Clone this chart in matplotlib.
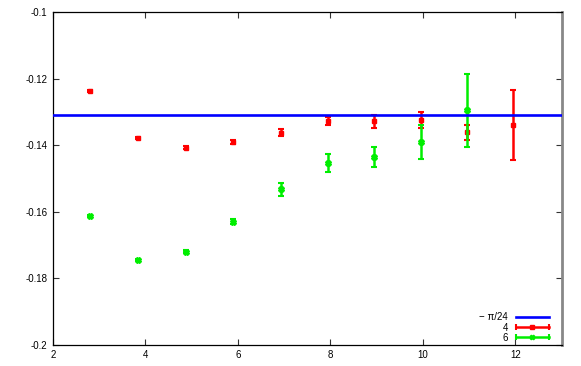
import numpy as np
import matplotlib
matplotlib.use("Agg")
import matplotlib.pyplot as plt
from matplotlib.legend_handler import HandlerBase
from matplotlib.lines import Line2D

plt.rcParams['font.family'] = ['Liberation Sans', 'DejaVu Sans']
plt.rcParams['axes.unicode_minus'] = False

# data
x_red = [2.81, 3.83, 4.87, 5.90, 6.92, 7.94, 8.95, 9.96, 10.96, 11.95]
y_red = [-0.1237, -0.13775, -0.1408, -0.1391, -0.1363, -0.1328, -0.1329, -0.1325, -0.1362, -0.1340]
e_red = [0.0002, 0.0003, 0.0004, 0.0005, 0.0011, 0.0013, 0.0019, 0.0025, 0.0022, 0.0105]

x_green = [2.81, 3.83, 4.87, 5.90, 6.92, 7.94, 8.95, 9.96, 10.96]
y_green = [-0.1612, -0.1746, -0.1720, -0.1630, -0.1533, -0.1454, -0.1436, -0.1391, -0.1296]
e_green = [0.0003, 0.0003, 0.0005, 0.0007, 0.0020, 0.0026, 0.0031, 0.0050, 0.0110]

const_val = -np.pi / 24
labels = ['\u2212 \u03c0/24', '4', '6']
xticks = [2, 4, 6, 8, 10, 12]
yticks = [-0.2, -0.18, -0.16, -0.14, -0.12, -0.1]
ytick_labels = ['-0.2', '-0.18', '-0.16', '-0.14', '-0.12', '-0.1']

fig = plt.figure(figsize=(5.81, 3.66), dpi=100)
ax = fig.add_axes([0.0912, 0.0582, 0.8756, 0.909])

ax.axhline(const_val, color='#0000ff', lw=1.9, zorder=5)
ax.errorbar(x_red, y_red, yerr=e_red, fmt='s', color='#ff0000', ms=2.8,
            elinewidth=1.8, capsize=2.5, capthick=1.5, zorder=3)
ax.errorbar(x_green, y_green, yerr=e_green, fmt='X', color='#00ee00', ms=3.8,
            elinewidth=1.8, capsize=2.5, capthick=1.5, zorder=4)

ax.set_xlim(2, 13)
ax.set_ylim(-0.2, -0.1)
ax.set_xticks(xticks)
ax.set_xticklabels([str(t) for t in xticks])
ax.set_yticks(yticks)
ax.set_yticklabels(ytick_labels)
ax.tick_params(direction='in', length=4, width=0.8, labelsize=7, top=True, right=True,
               colors='#333333', labelcolor='black', pad=4)
for s in ['left', 'bottom', 'top']:
    ax.spines[s].set_linewidth(0.9)
    ax.spines[s].set_color('black')
ax.spines['right'].set_linewidth(2.0)
ax.spines['right'].set_color('#888888')


class ErrHandler(HandlerBase):
    def __init__(self, color, marker, ms):
        super().__init__()
        self.color = color
        self.marker = marker
        self.ms = ms

    def create_artists(self, legend, orig_handle, xdescent, ydescent, width, height, fontsize, trans):
        y = height / 2 - ydescent
        x0, x1 = -xdescent, width - xdescent
        line = Line2D([x0, x1], [y, y], color=self.color, lw=1.8, transform=trans)
        caps = Line2D([x0, x1], [y, y], color=self.color, lw=0, marker='|', ms=4,
                      mew=1.5, transform=trans)
        mk = Line2D([(x0 + x1) / 2], [y], color=self.color, lw=0, marker=self.marker,
                    ms=self.ms, transform=trans)
        return [line, caps, mk]


h_blue = Line2D([], [], color='#0000ff', lw=1.9)
h_red = Line2D([], [], color='#ff0000')
h_green = Line2D([], [], color='#00ee00')
leg = ax.legend([h_blue, h_red, h_green], labels, loc='lower right',
                bbox_to_anchor=(0.988, -0.015), frameon=False, fontsize=7,
                markerfirst=False, handlelength=3.4, handletextpad=0.8,
                labelspacing=0.02, borderaxespad=0.3,
                handler_map={h_red: ErrHandler('#ff0000', 's', 2.2),
                             h_green: ErrHandler('#00ee00', 'X', 3.2)})
for t in leg.get_texts():
    t.set_ha('right')

fig.savefig('out.png', dpi=100)
